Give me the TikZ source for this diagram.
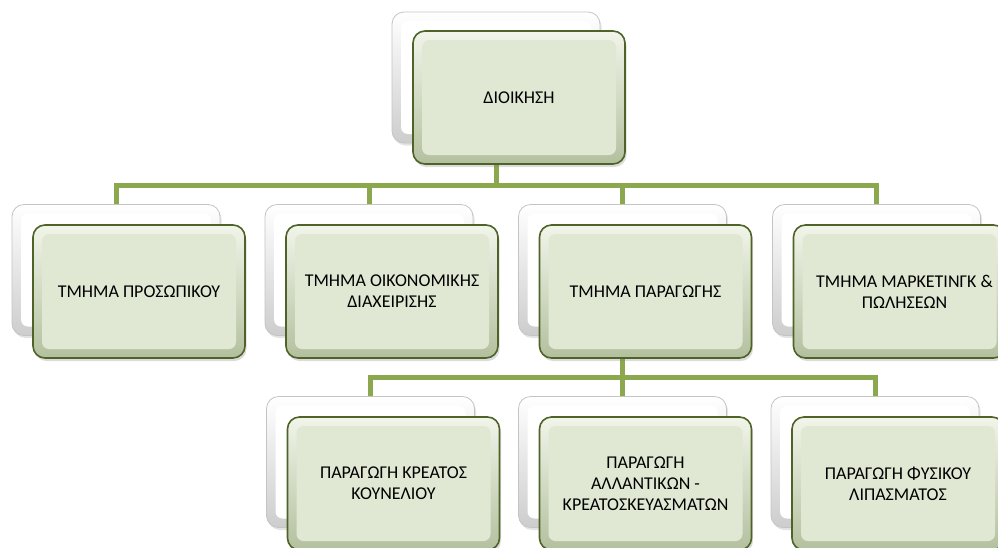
\documentclass[tikz,border=0pt]{standalone}
\usepackage{fontspec}
\setmainfont{Carlito}
\usetikzlibrary{shadows}
\definecolor{connc}{HTML}{8CA84E}
\definecolor{frameg}{HTML}{4F6228}
\definecolor{innerg}{HTML}{E0E8D4}
\definecolor{edgetop}{HTML}{F1F5EA}
\definecolor{edgebot}{HTML}{B3C09E}
\definecolor{backframe}{HTML}{C4C4C4}
\definecolor{backbot}{HTML}{CDCDCD}
\begin{document}
\begin{tikzpicture}[x=1pt,y=-1pt,
  connline/.style={draw=connc, line width=5pt},
  backbox/.style={draw=backframe, line width=0.8pt, rounded corners=12pt,
    minimum width=208pt, minimum height=131pt, inner sep=0pt,
    top color=white, bottom color=backbot,
    drop shadow={shadow xshift=1.5pt, shadow yshift=-2.5pt, opacity=0.22},
    path picture={\fill[white, rounded corners=7pt]
      ([shift={(9pt,-9pt)}]path picture bounding box.north west) rectangle
      ([shift={(-9pt,9pt)}]path picture bounding box.south east);}},
  frontbox/.style={draw=frameg, line width=1.6pt, rounded corners=12pt,
    minimum width=212pt, minimum height=133pt, inner sep=2pt,
    align=center, font=\fontsize{18}{21}\selectfont,
    top color=edgetop, bottom color=edgebot,
    drop shadow={shadow xshift=1.5pt, shadow yshift=-3pt, opacity=0.28},
    path picture={\fill[innerg, rounded corners=7pt]
      ([shift={(9pt,-9pt)}]path picture bounding box.north west) rectangle
      ([shift={(-9pt,9pt)}]path picture bounding box.south east);}}
]
\useasboundingbox (0,0) rectangle (998,547);
\clip (0,0) rectangle (998,547);

% reference coordinates for the horizontal bars
\coordinate (bar1) at (0,185);
\coordinate (bar2) at (0,377);

% centres of the back boxes
\path (496,77.5) coordinate (p0)
      (116,270) coordinate (p1) (369,270) coordinate (p2)
      (622.5,270) coordinate (p3) (876.5,270) coordinate (p4)
      (370.5,462) coordinate (p5) (622.5,462) coordinate (p6)
      (875,462) coordinate (p7);

% connectors
\draw[connline] (p0) -- (p0 |- bar1);
\draw[connline] (p1) -- (p1 |- bar1) -- (p4 |- bar1) -- (p4);
\draw[connline] (p2 |- bar1) -- (p2);
\draw[connline] (p3 |- bar1) -- (p3);
\draw[connline] (p3) -- (p3 |- bar2);
\draw[connline] (p5) -- (p5 |- bar2) -- (p7 |- bar2) -- (p7);
\draw[connline] (p6 |- bar2) -- (p6);

% top
\node[backbox] (b0) at (p0) {};
\node[frontbox] (f0) at (519,97.5) {ΔΙΟΙΚΗΣΗ};

% second row
\node[backbox] (b1) at (p1) {};
\node[frontbox] (f1) at (139,291.5) {ΤΜΗΜΑ ΠΡΟΣΩΠΙΚΟΥ};
\node[backbox] (b2) at (p2) {};
\node[frontbox] (f2) at (392,291.5) {ΤΜΗΜΑ ΟΙΚΟΝΟΜΙΚΗΣ\\ΔΙΑΧΕΙΡΙΣΗΣ};
\node[backbox] (b3) at (p3) {};
\node[frontbox] (f3) at (645.5,291.5) {ΤΜΗΜΑ ΠΑΡΑΓΩΓΗΣ};
\node[backbox] (b4) at (p4) {};
\node[frontbox] (f4) at (899.5,291.5) {\hspace*{10pt}ΤΜΗΜΑ ΜΑΡΚΕΤΙΝΓΚ \&\\\hspace*{10pt}ΠΩΛΗΣΕΩΝ};

% third row
\node[backbox] (b5) at (p5) {};
\node[frontbox] (f5) at (393.5,483.5) {ΠΑΡΑΓΩΓΗ ΚΡΕΑΤΟΣ\\ΚΟΥΝΕΛΙΟΥ};
\node[backbox] (b6) at (p6) {};
\node[frontbox] (f6) at (645.5,483.5) {ΠΑΡΑΓΩΓΗ\\ΑΛΛΑΝΤΙΚΩΝ -\\ΚΡΕΑΤΟΣΚΕΥΑΣΜΑΤΩΝ};
\node[backbox] (b7) at (p7) {};
\node[frontbox] (f7) at (898,483.5) {ΠΑΡΑΓΩΓΗ ΦΥΣΙΚΟΥ\\ΛΙΠΑΣΜΑΤΟΣ};
\end{tikzpicture}
\end{document}
